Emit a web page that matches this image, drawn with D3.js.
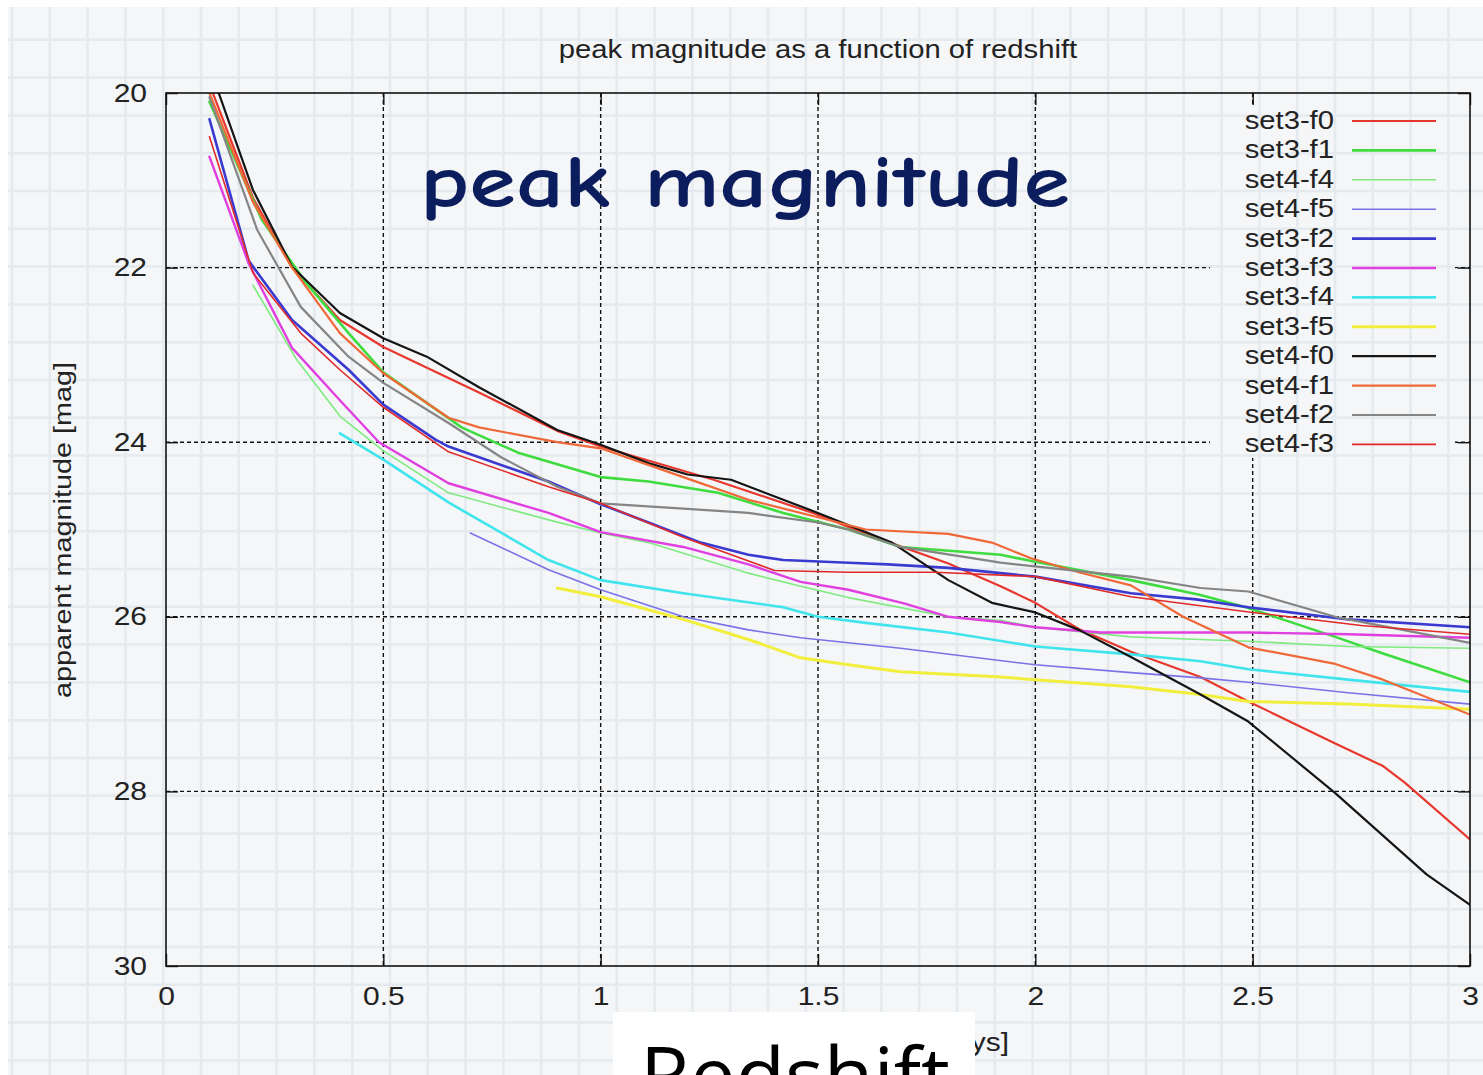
<!DOCTYPE html>
<html>
<head>
<meta charset="utf-8">
<script src="https://cdn.jsdelivr.net/npm/d3@7"></script>
<style>
  html, body { margin: 0; padding: 0; background: #fff; overflow: hidden; }
  text { font-family: "Liberation Sans", Arial, Helvetica, sans-serif; }
</style>
</head>
<body>
<svg id="chart" width="1483" height="1075"></svg>
<script>
// ---- data: peak apparent magnitude vs redshift, one [z, mag] list per model ----
const seriesNames = ["set3-f0", "set3-f1", "set4-f4", "set4-f5", "set3-f2", "set3-f3",
                     "set3-f4", "set3-f5", "set4-f0", "set4-f1", "set4-f2", "set4-f3"];

const set3f0 = [[0.1,19.9],[0.2,21.2],[0.29,22.0],[0.4,22.6],[0.5,22.91],[0.72,23.43],[0.9,23.87],
  [1.0,24.05],[1.26,24.43],[1.5,24.83],[1.61,25.05],[1.8,25.39],[1.92,25.65],[2.0,25.84],[2.1,26.14],
  [2.22,26.4],[2.38,26.69],[2.49,26.97],[2.69,27.45],[2.8,27.71],[2.85,27.9],[3.0,28.55]];
const set3f1 = [[0.1,20.1],[0.22,21.45],[0.32,22.16],[0.42,22.75],[0.5,23.2],[0.68,23.83],[0.81,24.12],
  [1.0,24.4],[1.11,24.45],[1.27,24.58],[1.42,24.81],[1.57,25.0],[1.69,25.2],[1.92,25.29],[2.0,25.37],
  [2.22,25.58],[2.38,25.75],[2.49,25.9],[2.69,26.23],[2.8,26.42],[3.0,26.75]];
const set4f4 = [[0.2,22.2],[0.3,23.05],[0.4,23.7],[0.5,24.1],[0.65,24.58],[0.88,24.89],[1.0,25.04],
  [1.11,25.15],[1.34,25.5],[1.46,25.65],[1.57,25.78],[1.8,26.0],[1.92,26.04],[2.0,26.12],[2.22,26.23],
  [2.38,26.26],[2.49,26.28],[2.72,26.34],[3.0,26.36]];
const set4f5 = [[0.7,25.04],[0.88,25.46],[1.0,25.69],[1.19,26.0],[1.34,26.15],[1.46,26.24],[1.69,26.36],
  [2.0,26.55],[2.22,26.64],[2.38,26.7],[2.49,26.75],[2.72,26.87],[3.0,27.0]];
const set3f2 = [[0.1,20.3],[0.19,21.92],[0.29,22.6],[0.42,23.17],[0.5,23.57],[0.62,23.97],[0.65,24.05],
  [0.88,24.45],[1.0,24.71],[1.11,24.92],[1.23,25.15],[1.34,25.29],[1.42,25.35],[1.57,25.38],[1.66,25.4],
  [1.8,25.44],[2.0,25.54],[2.22,25.73],[2.37,25.8],[2.49,25.89],[2.72,26.03],[3.0,26.12]];
const set3f3 = [[0.1,20.73],[0.19,21.95],[0.29,22.92],[0.4,23.52],[0.49,24.0],[0.65,24.47],[0.88,24.81],
  [1.0,25.03],[1.19,25.2],[1.34,25.4],[1.46,25.6],[1.57,25.69],[1.7,25.85],[1.8,26.0],[1.92,26.06],
  [2.0,26.12],[2.15,26.18],[2.38,26.18],[2.49,26.18],[2.72,26.2],[3.0,26.24]];
const set3f4 = [[0.4,23.9],[0.5,24.2],[0.65,24.69],[0.88,25.35],[1.0,25.58],[1.19,25.73],[1.42,25.89],
  [1.5,26.0],[1.61,26.07],[1.8,26.18],[2.0,26.34],[2.22,26.43],[2.38,26.51],[2.49,26.6],[2.72,26.72],
  [3.0,26.86]];
const set3f5 = [[0.9,25.67],[1.0,25.77],[1.19,26.03],[1.34,26.26],[1.46,26.47],[1.57,26.55],[1.69,26.63],
  [1.92,26.69],[2.0,26.72],[2.22,26.8],[2.38,26.89],[2.49,26.97],[2.72,27.0],[3.0,27.06]];
const set4f0 = [[0.1,19.7],[0.2,21.11],[0.29,21.99],[0.4,22.52],[0.5,22.81],[0.6,23.02],[0.72,23.37],
  [0.9,23.86],[1.0,24.03],[1.11,24.24],[1.2,24.37],[1.3,24.43],[1.42,24.66],[1.5,24.81],[1.67,25.15],
  [1.8,25.58],[1.9,25.84],[2.0,25.95],[2.1,26.15],[2.22,26.46],[2.38,26.89],[2.49,27.2],[2.69,28.02],
  [2.9,28.95],[3.0,29.3]];
const set4f1 = [[0.1,20.0],[0.2,21.25],[0.29,22.0],[0.4,22.75],[0.5,23.21],[0.65,23.72],[0.72,23.83],
  [0.9,24.0],[1.0,24.07],[1.19,24.4],[1.34,24.66],[1.5,24.86],[1.61,25.0],[1.8,25.05],[1.9,25.15],
  [1.99,25.33],[2.1,25.49],[2.22,25.64],[2.34,26.0],[2.49,26.35],[2.69,26.54],[2.8,26.72],[3.0,27.12]];
const set4f2 = [[0.1,20.05],[0.21,21.57],[0.31,22.45],[0.42,23.02],[0.5,23.32],[0.65,23.78],[0.77,24.17],
  [0.9,24.51],[1.0,24.7],[1.19,24.76],[1.34,24.81],[1.5,24.92],[1.57,25.0],[1.69,25.2],[1.92,25.38],
  [2.22,25.54],[2.38,25.67],[2.49,25.71],[2.69,26.0],[3.0,26.3]];
const set4f3 = [[0.1,20.5],[0.2,22.06],[0.31,22.75],[0.4,23.17],[0.5,23.6],[0.65,24.11],[0.88,24.51],
  [1.0,24.7],[1.19,25.09],[1.4,25.47],[1.57,25.49],[1.77,25.49],[2.0,25.54],[2.22,25.77],[2.5,25.95],
  [2.75,26.1],[3.0,26.2]];

const seriesValues = [set3f0, set3f1, set4f4, set4f5, set3f2, set3f3, set3f4, set3f5, set4f0, set4f1, set4f2, set4f3];

const xTickValues = [0, 0.5, 1, 1.5, 2, 2.5, 3];
const xTickLabels = ["0", "0.5", "1", "1.5", "2", "2.5", "3"];
const yTickValues = [20, 22, 24, 26, 28, 30];
const yTickLabels = ["20", "22", "24", "26", "28", "30"];

// ---- styling ----
const lineColors = ["#e8382e", "#3edc3e", "#80ea80", "#7a72e6", "#3a3ad0", "#e040e0",
                    "#40e4ec", "#f2ee3c", "#151515", "#f06838", "#858585", "#e02a2a"];
const lineWidths = [2.2, 2.6, 1.6, 1.6, 2.6, 2.4, 2.6, 3.0, 2.2, 2.2, 2.2, 1.6];

const W = 1483, H = 1075;
const plot = { left: 166, right: 1470, top: 93, bottom: 966 };
const stretch = 1.2; // wide-set lettering of the axis text

const svg = d3.select("#chart");
const defs = svg.append("defs");

// ---- grid-paper backdrop ----
svg.append("rect").attr("width", W).attr("height", H).attr("fill", "#f4f6f8");
const paper = svg.append("g").attr("stroke", "#e4eaee").attr("stroke-width", 2.5);
d3.range(12, W, 37.8).forEach(px => paper.append("line")
  .attr("x1", px).attr("x2", px).attr("y1", 0).attr("y2", H));
d3.range(2, H, 37.8).forEach(py => paper.append("line")
  .attr("y1", py).attr("y2", py).attr("x1", 0).attr("x2", W));
svg.append("rect").attr("x", 0).attr("y", 0).attr("width", W).attr("height", 7).attr("fill", "#fff");
svg.append("rect").attr("x", 0).attr("y", 0).attr("width", 8).attr("height", H).attr("fill", "#fff");

// ---- scales ----
const x = d3.scaleLinear().domain([0, 3]).range([plot.left, plot.right]);
const y = d3.scaleLinear().domain([20, 30]).range([plot.top, plot.bottom]);

// legend block keeps the grid out of its area
const legend = { x0: 1210, x1: 1455, y0: 106, y1: 458 };
const mask = defs.append("mask").attr("id", "gridMask");
mask.append("rect").attr("width", W).attr("height", H).attr("fill", "#fff");
mask.append("rect").attr("x", legend.x0).attr("y", legend.y0)
  .attr("width", legend.x1 - legend.x0).attr("height", legend.y1 - legend.y0).attr("fill", "#000");

// ---- dashed major grid ----
const grid = svg.append("g").attr("mask", "url(#gridMask)")
  .attr("stroke", "#111").attr("stroke-width", 1.4).attr("stroke-dasharray", "4,3");
grid.selectAll("line.gx").data(xTickValues.slice(1, -1)).join("line")
  .attr("x1", d => x(d)).attr("x2", d => x(d)).attr("y1", plot.top).attr("y2", plot.bottom);
grid.selectAll("line.gy").data(yTickValues.slice(1, -1)).join("line")
  .attr("y1", d => y(d)).attr("y2", d => y(d)).attr("x1", plot.left).attr("x2", plot.right);

// ---- axes (inward ticks on all four sides) ----
function styleAxis(g) {
  g.select(".domain").remove();
  g.selectAll(".tick line").attr("stroke", "#111").attr("stroke-width", 1.4);
  g.selectAll(".tick text").attr("fill", "#222").style("font-size", "25px")
    .style("font-family", "'Liberation Sans', Arial, sans-serif");
}
const xAxis = svg.append("g").attr("transform", `translate(0,${plot.bottom})`)
  .call(d3.axisBottom(x).tickValues(xTickValues).tickFormat((d, i) => xTickLabels[i])
    .tickSize(-12).tickPadding(21));
styleAxis(xAxis);
xAxis.selectAll(".tick text").attr("transform", `scale(${stretch},1)`);

const yAxis = svg.append("g").attr("transform", `translate(${plot.left},0)`)
  .call(d3.axisLeft(y).tickValues(yTickValues).tickFormat((d, i) => yTickLabels[i])
    .tickSize(-12).tickPadding(19));
styleAxis(yAxis);
yAxis.selectAll(".tick text").attr("x", -19 / stretch).attr("transform", `scale(${stretch},1)`);

const topAxis = svg.append("g").attr("transform", `translate(0,${plot.top})`)
  .call(d3.axisTop(x).tickValues(xTickValues).tickFormat("").tickSize(-12));
styleAxis(topAxis);
const rightAxis = svg.append("g").attr("transform", `translate(${plot.right},0)`)
  .call(d3.axisRight(y).tickValues(yTickValues).tickFormat("").tickSize(-12));
styleAxis(rightAxis);

// ---- curves ----
defs.append("clipPath").attr("id", "plotClip").append("rect")
  .attr("x", plot.left).attr("y", plot.top)
  .attr("width", plot.right - plot.left).attr("height", plot.bottom - plot.top);
const line = d3.line().x(d => x(d[0])).y(d => y(d[1]));
svg.append("g").attr("clip-path", "url(#plotClip)")
  .selectAll("path").data(seriesValues).join("path")
  .attr("d", line).attr("fill", "none")
  .attr("stroke", (d, i) => lineColors[i]).attr("stroke-width", (d, i) => lineWidths[i])
  .attr("stroke-linejoin", "round").attr("stroke-linecap", "round");

// ---- frame ----
svg.append("rect").attr("x", plot.left).attr("y", plot.top)
  .attr("width", plot.right - plot.left).attr("height", plot.bottom - plot.top)
  .attr("fill", "none").attr("stroke", "#111").attr("stroke-width", 1.6);

// ---- legend ----
const legendG = svg.append("g");
seriesNames.forEach((name, i) => {
  const ly = 121 + i * 29.4;
  legendG.append("text")
    .attr("transform", `translate(1334,${ly + 8}) scale(1.17,1)`)
    .attr("text-anchor", "end").attr("fill", "#222").style("font-size", "25px").text(name);
  legendG.append("line").attr("x1", 1352).attr("x2", 1436).attr("y1", ly).attr("y2", ly)
    .attr("stroke", lineColors[i]).attr("stroke-width", lineWidths[i]);
});

// ---- titles and labels ----
svg.append("text").attr("transform", `translate(818,58) scale(1.17,1)`)
  .attr("text-anchor", "middle").attr("fill", "#222").style("font-size", "25px")
  .text("peak magnitude as a function of redshift");

svg.append("text").attr("transform", `translate(71,530) rotate(-90) scale(${stretch},1)`)
  .attr("text-anchor", "middle").attr("fill", "#222").style("font-size", "24px")
  .text("apparent magnitude [mag]");

svg.append("text").attr("x", 420).attr("y", 207)
  .attr("textLength", 650).attr("lengthAdjust", "spacingAndGlyphs")
  .attr("fill", "#0c1d5e")
  .style("font-family", "'Comic Sans MS', 'Comic Neue', 'DejaVu Sans', sans-serif")
  .style("font-weight", "bold")
  .style("font-size", "74px")
  .text("peak magnitude");

// original x-axis label, mostly covered by the redshift caption box
svg.append("text").attr("transform", `translate(1009,1051) scale(${stretch},1)`)
  .attr("text-anchor", "end").attr("fill", "#222").style("font-size", "25px")
  .text("[days]");

svg.append("rect").attr("x", 613).attr("y", 1012).attr("width", 362).attr("height", 80).attr("fill", "#fff");
svg.append("text").attr("x", 640).attr("y", 1104)
  .attr("textLength", 310).attr("lengthAdjust", "spacingAndGlyphs")
  .attr("fill", "#000").style("font-family", "'Open Sans', 'Liberation Sans', sans-serif")
  .style("font-size", "78px").text("Redshift");
</script>
</body>
</html>
